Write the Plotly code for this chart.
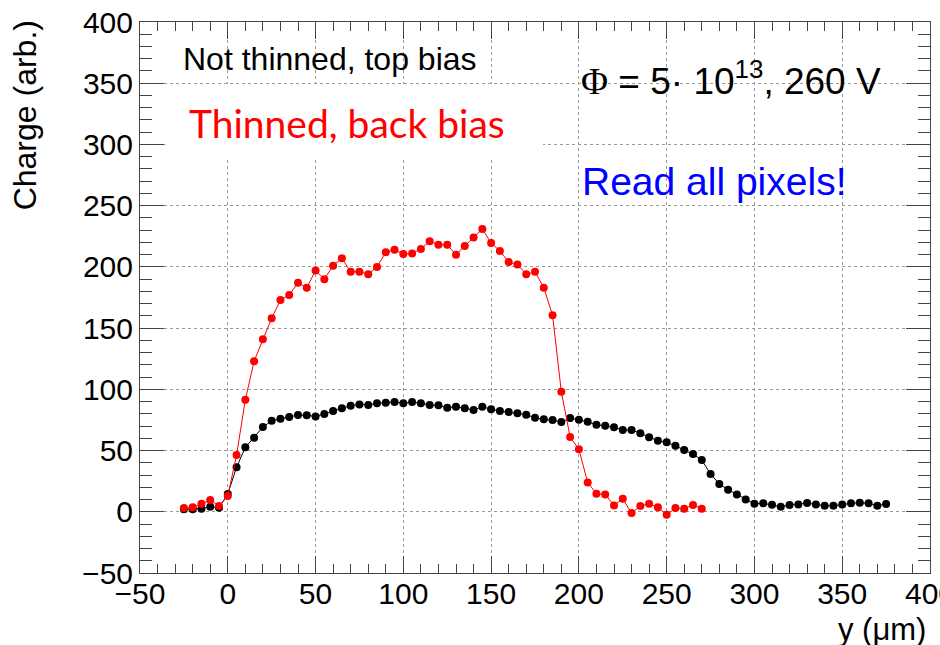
import plotly.graph_objects as go

# ---- data ----
thinned_y = list(range(-25, 275, 5))
thinned_charge = [3.0, 3.6, 6.5, 9.6, 4.7, 12.8, 46.3, 91.4, 123, 141,
                  158, 173, 177, 187, 183, 197, 190, 201, 207, 196,
                  196, 194, 200, 212, 214, 210.5, 211, 214.6, 221, 218,
                  218, 210, 217, 224, 231, 219.5, 213, 204, 202, 194,
                  196, 183, 160.5, 98, 61, 51, 24, 14.7, 14.2, 5.2,
                  10.6, -1.1, 4.7, 6.5, 3.6, -2.5, 3.0, 2.5, 5.5, 2.5]

notthinned_y = list(range(-25, 380, 5))
notthinned_charge = [2.0, 2.0, 2.5, 4.1, 3.3, 14.5, 36.3, 52.6, 60.5, 69.2,
                     74.3, 76, 77.4, 79, 78.8, 77.9, 79.8, 82.3, 84.5, 86.6,
                     87.7, 87.2, 88.6, 89.1, 89.6, 88.6, 89.6, 88.6, 87.2, 86.9,
                     85, 85.8, 84.5, 83.1, 85.8, 83.7, 82.3, 81.5, 80.4, 79.3,
                     76.8, 75.5, 74.9, 73.3, 76.6, 75.2, 73.5, 71.1, 70.3, 69,
                     66.8, 66.8, 64.1, 60.8, 58, 56.7, 53.9, 50.4, 47.1, 42.2,
                     30.9, 22.7, 18, 14.2, 10.1, 6.5, 6.9, 5.7, 4.1, 5.5,
                     6, 7.1, 6, 4.9, 4.9, 6, 6.9, 7.4, 6.9, 4.9, 6.3]

x_range = [-50, 400]
y_range = [-50, 400]

FONT = "Liberation Sans, Arial, sans-serif"

fig = go.Figure()
fig.add_trace(go.Scatter(x=notthinned_y, y=notthinned_charge, mode="lines+markers",
                         line=dict(color="black", width=1),
                         marker=dict(color="black", size=8), showlegend=False))
fig.add_trace(go.Scatter(x=thinned_y, y=thinned_charge, mode="lines+markers",
                         line=dict(color="red", width=1),
                         marker=dict(color="red", size=8), showlegend=False))

axis_common = dict(
    showline=True, linecolor="#444", linewidth=1, mirror="ticks",
    ticks="inside", tickcolor="#444", tickwidth=1,
    showgrid=True, gridcolor="#999", gridwidth=1, griddash="dot",
    zeroline=False, dtick=50, tick0=-50,
    tickfont=dict(family=FONT, size=30, color="black"),
    ticklabeloverflow="allow", automargin=False,
    minor=dict(dtick=10, tick0=-50, ticks="inside", tickcolor="#444", showgrid=False),
)

fig.update_xaxes(range=x_range, ticklen=17, minor_ticklen=9, ticklabelstandoff=-6, **axis_common)
fig.update_yaxes(range=y_range, ticklen=24, minor_ticklen=12, ticklabelstandoff=0, **axis_common)

fig.add_shape(type="rect", xref="x", yref="y", x0=-35.6, x1=179.6, y0=289, y1=349.4,
              fillcolor="white", line=dict(width=0), layer="between")

anns = [
    dict(x=-26.4, y=369.8, text="Not thinned, top bias", xanchor="left", yanchor="middle",
         font=dict(family=FONT, size=32, color="black")),
    dict(x=-23.2, y=317.2, text="Thinned, back bias", xanchor="left", yanchor="middle",
         font=dict(family="Lato, sans-serif", size=39, color="#ff0000")),
    dict(x=200.2, y=353.5,
         text="<span style='font-family:Liberation Serif'>Φ</span> = 5· 10<sup>13</sup>, 260 V",
         xanchor="left", yanchor="middle",
         font=dict(family=FONT, size=37, color="black")),
    dict(x=200.6, y=269.8, text="Read all pixels!", xanchor="left", yanchor="middle",
         font=dict(family=FONT, size=39, color="#0000ff")),
]
for a in anns:
    fig.add_annotation(xref="x", yref="y", showarrow=False, **a)

fig.add_annotation(xref="paper", yref="paper", x=-0.146, y=1.006, text="Charge (arb.)",
                   textangle=-90, xanchor="center", yanchor="top", showarrow=False,
                   font=dict(family=FONT, size=32, color="black"))
fig.add_annotation(xref="paper", yref="paper", x=0.9975, y=-0.103, text="y (μm)",
                   xanchor="right", yanchor="middle", showarrow=False,
                   font=dict(family=FONT, size=31, color="black"))

fig.update_layout(width=940, height=645, margin=dict(l=140, r=10, t=22, b=72, autoexpand=False),
                  paper_bgcolor="white", plot_bgcolor="white")

fig.write_html("out.html")
